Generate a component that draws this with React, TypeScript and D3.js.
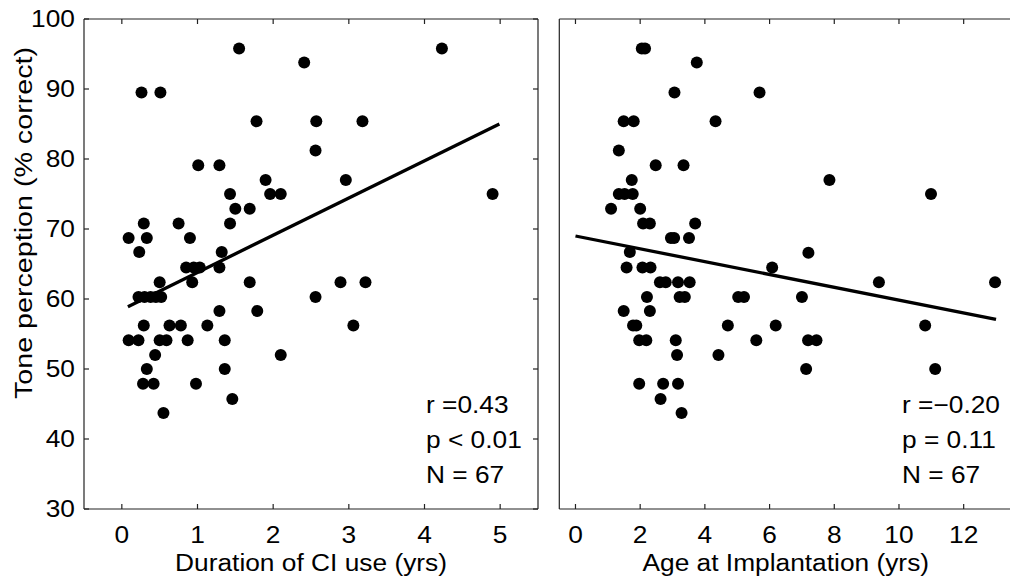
import React from "react";
import * as d3 from "d3";

// Left panel: Duration of CI use (yrs) vs Tone perception (% correct)
const durationX = [
  1.55, 2.41, 4.23, 0.26, 0.51, 1.78, 2.57, 3.18, 2.56, 1.01, 1.29, 1.90, 2.96,
  1.43, 1.96, 2.10, 4.90, 1.50, 1.69, 0.29, 0.75, 1.43, 0.09, 0.33, 0.90, 0.23,
  1.32, 0.85, 0.95, 1.03, 1.29, 0.50, 0.93, 1.69, 2.89, 3.22, 0.22, 0.30, 0.38,
  0.45, 0.52, 2.56, 1.29, 1.79, 0.29, 0.63, 0.78, 1.13, 3.06, 0.09, 0.22, 0.50,
  0.59, 0.87, 1.36, 0.44, 2.10, 0.33, 1.36, 0.28, 0.42, 0.98, 1.46, 0.55,
];
const durationY = [
  95.8, 93.8, 95.8, 89.5, 89.5, 85.4, 85.4, 85.4, 81.2, 79.1, 79.1, 77.0, 77.0,
  75.0, 75.0, 75.0, 75.0, 72.9, 72.9, 70.8, 70.8, 70.8, 68.7, 68.7, 68.7, 66.7,
  66.7, 64.5, 64.5, 64.5, 64.5, 62.4, 62.4, 62.4, 62.4, 62.4, 60.3, 60.3, 60.3,
  60.3, 60.3, 60.3, 58.3, 58.3, 56.2, 56.2, 56.2, 56.2, 56.2, 54.1, 54.1, 54.1,
  54.1, 54.1, 54.1, 52.0, 52.0, 50.0, 50.0, 47.9, 47.9, 47.9, 45.7, 43.7,
];

// Right panel: Age at Implantation (yrs) vs Tone perception (% correct)
const ageX = [
  2.05, 2.15, 3.75, 3.06, 5.69, 1.49, 1.80, 4.33, 1.34, 2.48, 3.34, 1.74, 7.85,
  1.34, 1.52, 1.77, 10.99, 1.10, 2.0, 2.09, 2.30, 3.70, 2.95, 3.05, 3.51, 1.68,
  7.20, 1.58, 2.07, 2.32, 6.08, 2.61, 2.79, 3.17, 3.53, 9.38, 12.97, 2.21, 3.22,
  3.38, 5.03, 5.21, 7.0, 1.49, 2.30, 1.78, 1.88, 4.71, 6.19, 10.81, 1.97, 2.19,
  3.10, 5.59, 7.19, 7.45, 3.14, 4.42, 7.13, 11.12, 1.97, 2.71, 3.17, 2.63, 3.28,
];
const ageY = [
  95.8, 95.8, 93.8, 89.5, 89.5, 85.4, 85.4, 85.4, 81.2, 79.1, 79.1, 77.0, 77.0,
  75.0, 75.0, 75.0, 75.0, 72.9, 72.9, 70.8, 70.8, 70.8, 68.7, 68.7, 68.7, 66.7,
  66.6, 64.5, 64.5, 64.5, 64.5, 62.4, 62.4, 62.4, 62.4, 62.4, 62.4, 60.3, 60.3,
  60.3, 60.3, 60.3, 60.3, 58.3, 58.3, 56.2, 56.2, 56.2, 56.2, 56.2, 54.1, 54.1,
  54.1, 54.1, 54.1, 54.1, 52.0, 52.0, 50.0, 50.0, 47.9, 47.9, 47.9, 45.7, 43.7,
];

// Regression line endpoints [x, y]
const durationFit: [number, number][] = [[0.08, 58.9], [4.99, 85.0]];
const ageFit: [number, number][] = [[0, 69.0], [13.0, 57.1]];

const yTicks = [30, 40, 50, 60, 70, 80, 90, 100];
const durationTicks = [0, 1, 2, 3, 4, 5];
const ageTicks = [0, 2, 4, 6, 8, 10, 12];

const durationStats = ["r =0.43", "p < 0.01", "N = 67"];
const ageStats = ["r =\u22120.20", "p = 0.11", "N = 67"];

const FONT = "'Liberation Sans', Arial, Helvetica, sans-serif";
const FS = 23.5;
const SX = 1.12;
const AXIS = "#222";

const top = 19;
const bottom = 509;

const yScale = d3.scaleLinear().domain([30, 100]).range([bottom, top]);

function Txt(props: {
  x: number;
  y: number;
  anchor?: "start" | "middle" | "end";
  dy?: string;
  children: React.ReactNode;
}) {
  return (
    <text
      transform={`translate(${props.x},${props.y}) scale(${SX},1)`}
      textAnchor={props.anchor || "start"}
      dy={props.dy}
      fontFamily={FONT}
      fontSize={FS}
      fill="#000"
    >
      {props.children}
    </text>
  );
}

type PanelProps = {
  left: number;
  right: number;
  domain: [number, number];
  xs: number[];
  ys: number[];
  fit: [number, number][];
  xTicks: number[];
  xLabel: string;
  stats: string[];
  statsX: number;
  showYLabels: boolean;
};

function Panel(p: PanelProps) {
  const x = d3.scaleLinear().domain(p.domain).range([p.left, p.right]);
  const line = d3
    .line<[number, number]>()
    .x((d) => x(d[0]))
    .y((d) => yScale(d[1]));
  const tl = 5;
  return (
    <g>
      <line x1={p.left} x2={p.right} y1={top} y2={top} stroke={AXIS} strokeWidth={1.2} />
      <line x1={p.left} x2={p.right} y1={bottom} y2={bottom} stroke={AXIS} strokeWidth={1.2} />
      <line x1={p.left} x2={p.left} y1={top} y2={bottom} stroke={AXIS} strokeWidth={1.2} />
      <line x1={p.right} x2={p.right} y1={top} y2={bottom} stroke={AXIS} strokeWidth={1.2} />
      {p.xTicks.map((t) => (
        <g key={"xt" + t}>
          <line x1={x(t)} x2={x(t)} y1={bottom} y2={bottom - tl} stroke={AXIS} strokeWidth={1.2} />
          <line x1={x(t)} x2={x(t)} y1={top} y2={top + tl} stroke={AXIS} strokeWidth={1.2} />
          <Txt x={x(t)} y={543} anchor="middle">
            {t}
          </Txt>
        </g>
      ))}
      {p.showYLabels &&
        yTicks.map((t) => (
          <g key={"yt" + t}>
            <line x1={p.left} x2={p.left + tl} y1={yScale(t)} y2={yScale(t)} stroke={AXIS} strokeWidth={1.2} />
            <line x1={p.right} x2={p.right - tl} y1={yScale(t)} y2={yScale(t)} stroke={AXIS} strokeWidth={1.2} />
            <Txt x={75} y={yScale(t)} dy="0.36em" anchor="end">
              {t}
            </Txt>
          </g>
        ))}
      <Txt x={(p.left + p.right) / 2} y={571} anchor="middle">
        {p.xLabel}
      </Txt>
      {p.xs.map((v, i) => (
        <circle key={"pt" + i} cx={x(v)} cy={yScale(p.ys[i])} r={6} fill="#000" />
      ))}
      <path d={line(p.fit) || ""} stroke="#000" strokeWidth={3.3} fill="none" />
      {p.stats.map((s, i) => (
        <Txt key={"st" + i} x={p.statsX} y={413 + i * 35}>
          {s}
        </Txt>
      ))}
    </g>
  );
}

export default function App() {
  return (
    <svg
      width={1010}
      height={587}
      style={{ position: "absolute", left: 0, top: 0, background: "#fff" }}
    >
      <rect x={0} y={0} width={1010} height={587} fill="#fff" />
      <text
        transform="translate(32,223) rotate(-90) scale(1.17,1)"
        textAnchor="middle"
        fontFamily={FONT}
        fontSize={24.5}
        fill="#000"
      >
        Tone perception (% correct)
      </text>
      <Panel
        left={84}
        right={538}
        domain={[-0.5, 5.5]}
        xs={durationX}
        ys={durationY}
        fit={durationFit}
        xTicks={durationTicks}
        xLabel="Duration of CI use (yrs)"
        stats={durationStats}
        statsX={426}
        showYLabels={true}
      />
      <Panel
        left={559.3}
        right={1012.2}
        domain={[-0.5, 13.5]}
        xs={ageX}
        ys={ageY}
        fit={ageFit}
        xTicks={ageTicks}
        xLabel="Age at Implantation (yrs)"
        stats={ageStats}
        statsX={902}
        showYLabels={false}
      />
    </svg>
  );
}
